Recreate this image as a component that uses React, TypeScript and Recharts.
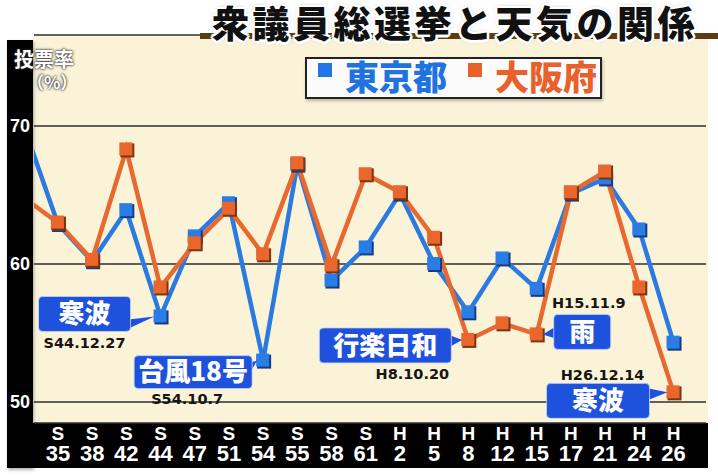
import React from "react";
import { LineChart, Line, XAxis, YAxis, CartesianGrid, ReferenceDot } from "recharts";

// ─── Data (first entry = S33, only its line stub shows) ───
const ERA = ["S", "S", "S", "S", "S", "S", "S", "S", "S", "S", "S", "H", "H", "H", "H", "H", "H", "H", "H", "H"];
const YEAR = ["33", "35", "38", "42", "44", "47", "51", "54", "55", "58", "61", "2", "5", "8", "12", "15", "17", "21", "24", "26"];
const TOKYO = [70.0, 62.9, 60.2, 63.9, 56.2, 62.0, 64.4, 53.0, 67.2, 58.8, 61.2, 65.1, 60.0, 56.5, 60.4, 58.2, 65.1, 66.2, 62.5, 54.3];
const OSAKA = [64.8, 63.0, 60.3, 68.3, 58.3, 61.5, 64.0, 60.7, 67.3, 59.9, 66.5, 65.2, 61.9, 54.5, 55.7, 54.9, 65.2, 66.7, 58.3, 50.7];
const Y_TICKS = [50, 60, 70];

const NOTE_IDX = [4, 7, 13, 15, 19];
const NOTE_SERIES = ["tokyo", "tokyo", "osaka", "osaka", "osaka"];
const NOTE_LABEL = ["寒波", "台風18号", "行楽日和", "雨", "寒波"];
const NOTE_DATE = ["S44.12.27", "S54.10.7", "H8.10.20", "H15.11.9", "H26.12.14"];

// callout box layout, relative to the marker centre
const NOTE_BOX = [
  { x0: -122, x1: -30, y0: -20, y1: 15, p0: 3, p1: 12, dx: -76, dy: 26 },
  { x0: -129, x1: -11, y0: -5, y1: 28, p0: 2, p1: 12, dx: -76, dy: 38 },
  { x0: -149, x1: -17, y0: -12, y1: 23, p0: -5, p1: 7, dx: -56, dy: 34 },
  { x0: 17, x1: 74, y0: -20, y1: 15, p0: -8, p1: 4, dx: 52, dy: -32 },
  { x0: -127, x1: -24, y0: -9, y1: 26, p0: -4, p1: 8, dx: -71, dy: -18 },
];

const rows = YEAR.map((_, i) => ({ x: i - 1, tokyo: TOKYO[i], osaka: OSAKA[i] }));

const CJK = "'Noto Sans CJK JP', 'Noto Sans', sans-serif";
const LAT = "'Liberation Sans', Arial, sans-serif";
const BLUE = "#2a7ae0";
const ORANGE = "#e8692f";
const BOX_BLUE = "#1f52dc";

const WHITE_OUTLINE = [
  "2.5px 0 0 #fff", "-2.5px 0 0 #fff", "0 2.5px 0 #fff", "0 -2.5px 0 #fff",
  "1.8px 1.8px 0 #fff", "-1.8px 1.8px 0 #fff", "1.8px -1.8px 0 #fff", "-1.8px -1.8px 0 #fff",
  "0 0 4px rgba(0,0,0,0.5)",
].join(", ");

const makeDot = (fill: string, dark: string) => (p: any) => {
  if (p.index === 0) return <g key={`d${p.index}`} />;
  return (
    <g key={`d${p.index}`}>
      <rect x={p.cx - 6} y={p.cy - 6} width={14} height={14} fill={dark} />
      <rect x={p.cx - 7} y={p.cy - 7} width={13} height={13} fill={fill} />
    </g>
  );
};

const CatTick = (props: any) => {
  const { x, y, payload } = props;
  const i = payload.value + 1;
  return (
    <g>
      <text x={x} y={y + 17} textAnchor="middle" fill="#fff" fontSize={19} fontWeight="bold" fontFamily={LAT}>
        {ERA[i]}
      </text>
      <text x={x} y={y + 38} textAnchor="middle" fill="#fff" fontSize={22} fontWeight="bold" fontFamily={LAT}>
        {YEAR[i]}
      </text>
    </g>
  );
};

const callout = (n: number) => (p: any) => {
  const { cx, cy } = p;
  const b = NOTE_BOX[n];
  const right = b.x1 < 0;
  const edge = right ? cx + b.x1 - 2 : cx + b.x0 + 2;
  const tip = right ? cx - 6 : cx + 6;
  const bw = b.x1 - b.x0;
  const bh = b.y1 - b.y0;
  return (
    <g>
      <polygon points={`${edge},${cy + b.p0} ${edge},${cy + b.p1} ${tip},${cy}`} fill={BOX_BLUE} />
      <rect x={cx + b.x0} y={cy + b.y0} width={bw} height={bh} rx={4} fill={BOX_BLUE} stroke="#c9d6ff" strokeWidth={0.8} />
      <text
        x={cx + b.x0 + bw / 2}
        y={cy + b.y0 + bh / 2}
        dy="0.36em"
        textAnchor="middle"
        fill="#fff"
        fontSize={26}
        fontWeight={900}
        fontFamily={CJK}
      >
        {NOTE_LABEL[n]}
      </text>
      <text
        x={cx + b.dx}
        y={cy + b.dy}
        dy="0.36em"
        textAnchor="middle"
        fill="#151515"
        fontSize={14.5}
        fontWeight="bold"
        fontFamily="'DejaVu Sans', sans-serif"
      >
        {NOTE_DATE[n]}
      </text>
    </g>
  );
};

export default function App() {
  return (
    <div style={{ position: "fixed", left: 0, top: 0, width: 718, height: 475, background: "#fff", overflow: "hidden" }}>
      {/* cream plot panel + black frame pieces */}
      <div style={{ position: "absolute", left: 33, top: 36, width: 675, height: 387, background: "#fbf3d8" }} />
      <div style={{ position: "absolute", left: 7, top: 40, width: 26, height: 428, background: "#000", boxShadow: "1px 2px 3px rgba(0,0,0,0.3)" }} />
      <div style={{ position: "absolute", left: 33, top: 423, width: 675, height: 45, background: "#000" }} />

      <div style={{ position: "absolute", left: 0, top: 0 }}>
        <LineChart width={718} height={475} data={rows} margin={{ top: 35, right: 12, bottom: 7, left: 8 }}>
          <CartesianGrid vertical={false} stroke="#2e2e2e" strokeWidth={1.5} />
          <XAxis
            type="number"
            dataKey="x"
            domain={[-0.7, 18.95]}
            allowDataOverflow
            ticks={[0, 1, 2, 3, 4, 5, 6, 7, 8, 9, 10, 11, 12, 13, 14, 15, 16, 17, 18]}
            interval={0}
            height={45}
            tickSize={0}
            tickMargin={0}
            axisLine={false}
            tickLine={false}
            tick={<CatTick />}
          />
          <YAxis
            type="number"
            width={26}
            domain={[48.48, 76.59]}
            allowDataOverflow
            ticks={Y_TICKS}
            axisLine={false}
            tickLine={false}
            tickSize={0}
            tickMargin={4}
            tick={{ fill: "#fff", fontSize: 18, fontWeight: "bold", fontFamily: LAT }}
          />
          <Line
            dataKey="tokyo"
            stroke={BLUE}
            strokeWidth={4.5}
            dot={makeDot("#2b7de6", "#123d86")}
            activeDot={false}
            isAnimationActive={false}
          />
          <Line
            dataKey="osaka"
            stroke={ORANGE}
            strokeWidth={4.5}
            dot={makeDot("#e9662c", "#7c3510")}
            activeDot={false}
            isAnimationActive={false}
          />
          {NOTE_IDX.map((idx, n) => (
            <ReferenceDot
              key={n}
              x={idx - 1}
              y={NOTE_SERIES[n] === "tokyo" ? TOKYO[idx] : OSAKA[idx]}
              r={0}
              ifOverflow="visible"
              shape={callout(n)}
            />
          ))}
        </LineChart>
      </div>

      {/* title with brown rule */}
      <div style={{ position: "absolute", left: 200, top: 33, width: 518, height: 6, background: "#5e3c12" }} />
      <div
        style={{
          position: "absolute",
          left: 212,
          top: 1,
          fontFamily: CJK,
          fontWeight: 900,
          fontSize: 37,
          lineHeight: "42px",
          letterSpacing: 3.5,
          color: "#111",
          whiteSpace: "nowrap",
          textShadow: WHITE_OUTLINE,
        }}
      >
        衆議員総選挙と天気の関係
      </div>

      {/* y axis title */}
      <div
        style={{
          position: "absolute",
          left: 14,
          top: 47,
          fontFamily: CJK,
          fontWeight: 700,
          fontSize: 20,
          lineHeight: "23px",
          color: "#fff",
          textShadow: "0 0 3px #333, 0 0 2px #333",
        }}
      >
        投票率
      </div>
      <div
        style={{
          position: "absolute",
          left: 27,
          top: 72,
          fontFamily: CJK,
          fontWeight: 700,
          fontSize: 17,
          lineHeight: "20px",
          color: "#fff",
          textShadow: "0 0 3px #333, 0 0 2px #333",
        }}
      >
        （%）
      </div>

      {/* legend */}
      <div
        style={{
          position: "absolute",
          left: 305,
          top: 57,
          width: 293,
          height: 38,
          background: "#fbfbfb",
          border: "2px solid #222",
          boxShadow: "1px 2px 3px rgba(0,0,0,0.25)",
        }}
      >
        <div style={{ position: "absolute", left: 11, top: 4, width: 14, height: 14, background: "#2277e8" }} />
        <div
          style={{
            position: "absolute",
            left: 38,
            top: -7,
            fontFamily: CJK,
            fontWeight: 900,
            fontSize: 34,
            lineHeight: "48px",
            color: "#2072e0",
            whiteSpace: "nowrap",
          }}
        >
          東京都
        </div>
        <div style={{ position: "absolute", left: 161, top: 4, width: 14, height: 14, background: "#e8602a" }} />
        <div
          style={{
            position: "absolute",
            left: 188,
            top: -7,
            fontFamily: CJK,
            fontWeight: 900,
            fontSize: 34,
            lineHeight: "48px",
            color: "#e8602a",
            whiteSpace: "nowrap",
          }}
        >
          大阪府
        </div>
      </div>
    </div>
  );
}
